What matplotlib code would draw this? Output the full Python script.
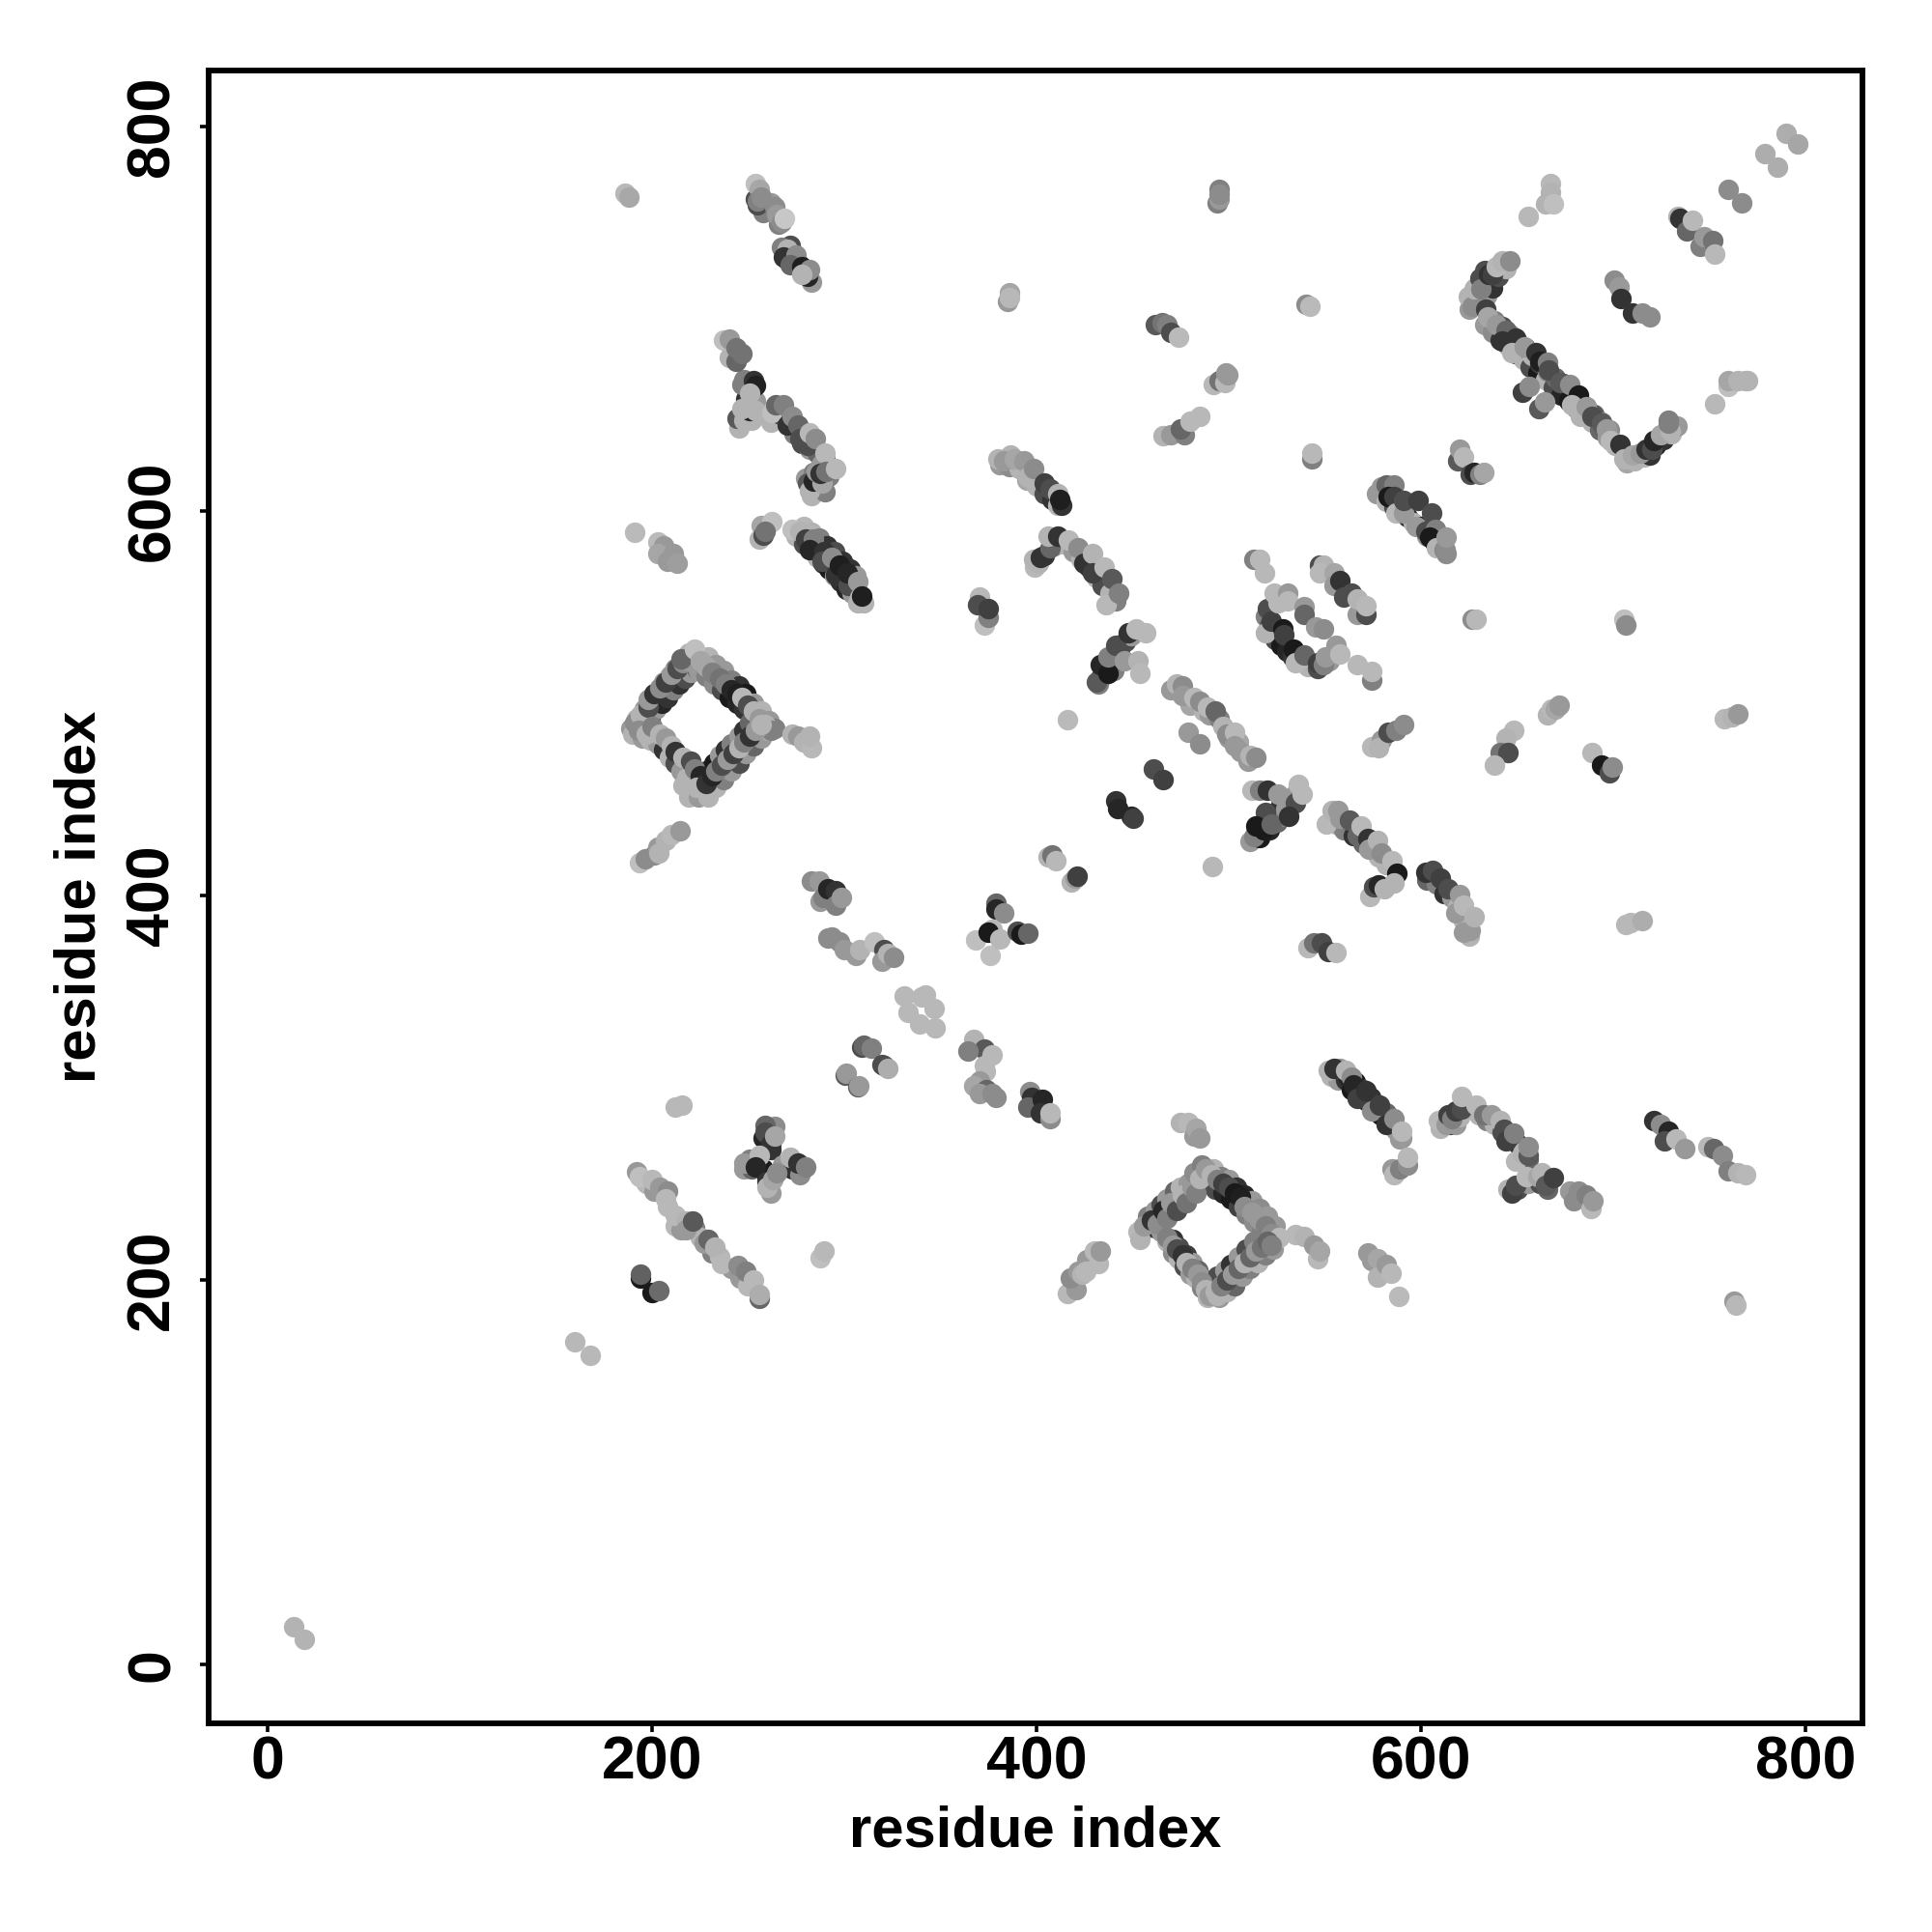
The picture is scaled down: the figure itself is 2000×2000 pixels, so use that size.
import matplotlib
matplotlib.use('Agg')
import matplotlib.pyplot as plt

plt.rcParams['font.family'] = ['Liberation Sans', 'DejaVu Sans']

ticks = [0, 200, 400, 600, 800]
axis_name = 'residue index'

# contacts lying along the edges of the strands, these end up underneath
e01_x = [275, 279, 283, 286, 289, 292, 295, 298, 301, 304, 307, 310, 279, 283, 287, 291, 295, 299, 303, 306]
e01_y = [587, 583, 580, 576, 573, 570, 566, 563, 559, 557, 552, 552, 592, 589, 586, 582, 579, 574, 570, 566]
e01_g = [.7, .3, .15, .7, .2, .1, .6, .2, .15, .6, .7, .7, .72, .7, .5, .2, .3, .2, .2, .6]
e02_x = [381, 386, 391, 395, 400, 404, 408, 411, 413]
e02_y = [624, 623, 622, 616, 613, 609, 606, 603, 603]
e02_g = [.6, .55, .7, .65, .7, .3, .2, .7, .2]
e03_x = [399, 401, 404, 409, 414, 419, 423, 427, 431, 434, 438, 441]
e03_y = [571, 573, 577, 582, 583, 579, 575, 571, 565, 561, 557, 553]
e03_g = [.72, .7, .2, .6, .7, .6, .7, .2, .7, .3, .7, .5]
e04_x = [633, 637, 641, 645, 649, 653, 657, 661, 665, 669, 673, 677, 681, 685, 689, 693, 697, 701]
e04_y = [697, 693, 689, 686, 682, 679, 675, 672, 668, 664, 660, 657, 653, 650, 646, 642, 638, 634]
e04_g = [.6, .55, .2, .7, .15, .7, .3, .1, .7, .3, .15, .1, .6, .3, .7, .4, .6, .7]
e05_x = [638, 642, 646, 650, 654, 658, 662, 666, 670, 674, 678, 682, 686, 690, 694, 698]
e05_y = [699, 696, 692, 688, 685, 681, 677, 673, 669, 666, 662, 658, 654, 650, 646, 642]
e05_g = [.5, .3, .6, .45, .2, .7, .25, .5, .4, .2, .1, .3, .5, .35, .5, .55]
e06_x = [707, 711, 716, 719, 722, 726, 730, 733]
e06_y = [625, 626, 628, 629, 634, 637, 640, 644]
e06_g = [.65, .7, .7, .2, .15, .2, .7, .6]
e07_x = [625, 628, 630, 633, 636, 639, 642, 628, 631, 634, 637, 640, 644]
e07_y = [705, 709, 713, 717, 719, 724, 727, 716, 712, 712, 716, 722, 726]
e07_g = [.6, .4, .7, .2, .3, .7, .6, .6, .3, .6, .2, .3, .7]
e08_x = [577, 582, 586, 589, 593, 596, 600, 603, 607, 610, 613]
e08_y = [609, 605, 602, 600, 597, 594, 592, 587, 584, 583, 578]
e08_g = [.6, .7, .3, .7, .2, .7, .1, .6, .1, .7, .55]
e09_x = [553, 557, 561, 564, 568, 572, 575, 579, 583, 587, 590, 558, 562, 566, 570, 574, 578, 582, 586]
e09_y = [306, 304, 304, 299, 296, 293, 289, 286, 282, 278, 274, 310, 306, 303, 299, 295, 291, 287, 282]
e09_g = [.7, .6, .2, .1, .2, .15, .3, .1, .4, .6, .6, .6, .15, .1, .25, .2, .3, .4, .5]
e10_x = [630, 634, 638, 642, 646, 650, 653, 656]
e10_y = [286, 283, 281, 277, 274, 271, 267, 263]
e10_g = [.7, .5, .7, .3, .6, .2, .7, .4]
e11_x = [519, 521, 524, 527, 530, 533, 537, 541, 546, 552]
e11_y = [545, 540, 533, 530, 527, 524, 522, 519, 518, 522]
e11_g = [.5, .3, .3, .1, .15, .2, .2, .7, .3, .6]
e12_x = [514, 517, 520, 524, 527, 531, 534, 511, 516, 521, 525, 529]
e12_y = [432, 437, 440, 443, 447, 450, 452, 428, 430, 434, 438, 441]
e12_g = [.3, .2, .5, .15, .2, .4, .6, .6, .1, .15, .4, .5]
e13_x = [433, 436, 439, 443, 446, 449, 432, 440]
e13_y = [513, 518, 523, 528, 532, 535, 510, 517]
e13_g = [.2, .1, .3, .2, .3, .6, .5, .5]
e14_x = [248, 252, 255, 258, 262, 264, 258, 260, 262, 268, 273, 277]
e14_y = [258, 258, 263, 258, 268, 280, 274, 254, 245, 260, 258, 255]
e14_g = [.6, .4, .2, .1, .2, .55, .15, .1, .6, .6, .2, .55]
e15_x = [254, 258, 262, 266, 270, 272, 276, 279, 283]
e15_y = [762, 755, 760, 749, 731, 738, 729, 726, 719]
e15_g = [.3, .5, .6, .5, .2, .3, .15, .1, .6]
e16_x = [262, 267, 271, 274, 278, 282, 286, 290, 288, 245, 249, 252, 248, 252]
e16_y = [646, 650, 645, 640, 635, 632, 630, 627, 624, 643, 658, 660, 668, 647]
e16_g = [.7, .3, .2, .5, .3, .6, .4, .5, .6, .7, .2, .3, .5, .7]
e17_x = [283, 286, 289, 292, 280, 284, 290]
e17_y = [608, 612, 617, 618, 617, 620, 610]
e17_g = [.7, .2, .3, .5, .6, .5, .5]
e18_x = [556, 560, 565, 570, 574, 578, 582]
e18_y = [437, 434, 431, 427, 424, 420, 416]
e18_g = [.7, .5, .2, .4, .6, .7, .7]
e19_x = [603, 608, 612, 616, 619, 622, 625]
e19_y = [408, 406, 401, 399, 394, 387, 379]
e19_g = [.4, .5, .2, .6, .7, .7, .7]
e20_x = [610, 612, 615, 618, 620, 650, 656, 662, 666]
e20_y = [279, 284, 281, 281, 285, 247, 250, 250, 247]
e20_g = [.7, .3, .2, .6, .7, .3, .6, .3, .4]
e21_x = [197, 201, 212, 215, 222, 225, 231, 235, 241, 246, 250]
e21_y = [250, 246, 228, 226, 227, 222, 214, 212, 206, 201, 197]
e21_g = [.72, .6, .72, .6, .5, .7, .5, .72, .6, .6, .72]
e22_x = [470, 477, 480, 487, 490, 495, 500, 505, 510]
e22_y = [507, 505, 499, 496, 494, 492, 482, 480, 470]
e22_g = [.6, .7, .65, .7, .6, .5, .6, .65, .6]
# left diamond edges
e23_x = [189, 192, 196, 199, 203, 206, 209, 212, 216, 219, 196, 199, 202, 205, 208, 211, 214, 217, 220, 223]
e23_y = [487, 492, 497, 502, 506, 511, 514, 518, 522, 526, 489, 492, 497, 500, 503, 507, 510, 513, 516, 518]
e23_g = [.6, .7, .6, .7, .55, .6, .7, .5, .6, .7, .35, .2, .6, .15, .2, .5, .2, .3, .6, .4]
e24_x = [229, 233, 237, 241, 245, 249, 253, 257, 261, 264, 224, 228, 232, 236, 240, 244, 248, 252, 255, 258]
e24_y = [524, 520, 517, 512, 509, 505, 500, 496, 491, 487, 517, 514, 510, 507, 503, 500, 497, 491, 488, 484]
e24_g = [.7, .6, .6, .5, .2, .1, .6, .7, .6, .5, .6, .5, .55, .3, .1, .15, .2, .3, .2, .6]
e25_x = [190, 195, 199, 203, 206, 209, 212, 215, 218, 216]
e25_y = [484, 482, 481, 479, 476, 472, 469, 465, 461, 457]
e25_g = [.7, .6, .7, .6, .2, .7, .3, .6, .7, .7]
e26_x = [233, 237, 241, 245, 249, 253, 257, 261, 225, 228, 232, 235, 238, 241, 245, 248, 251]
e26_y = [456, 460, 465, 469, 474, 478, 482, 486, 461, 465, 469, 473, 476, 479, 483, 486, 490]
e26_g = [.7, .5, .6, .3, .6, .4, .6, .7, .1, .2, .1, .6, .2, .5, .6, .2, .4]
# right diamond edges
e27_x = [456, 458, 462, 465, 468, 472, 475, 479, 483, 462, 465, 469, 472, 476, 480]
e27_y = [226, 233, 236, 239, 242, 246, 248, 250, 253, 227, 231, 235, 238, 242, 246]
e27_g = [.6, .5, .6, .3, .6, .4, .7, .6, .5, .2, .1, .2, .55, .15, .3]
e28_x = [465, 468, 471, 474, 477, 480, 483, 486, 489, 471, 474, 478, 481, 484, 488]
e28_y = [225, 220, 214, 211, 207, 203, 201, 196, 191, 221, 217, 213, 209, 205, 200]
e28_g = [.6, .7, .55, .7, .3, .6, .7, .5, .7, .2, .3, .25, .6, .4, .5]
e29_x = [492, 496, 500, 504, 508, 512, 516, 520, 524, 489, 493, 497, 501, 505, 509, 513, 517]
e29_y = [258, 254, 252, 248, 244, 241, 237, 233, 228, 250, 247, 245, 242, 238, 234, 230, 226]
e29_g = [.7, .5, .6, .2, .15, .6, .55, .6, .6, .6, .3, .15, .1, .25, .5, .55, .5]
e30_x = [495, 499, 503, 507, 511, 515, 519, 523, 491, 494, 498, 501, 505, 509, 513]
e30_y = [191, 194, 197, 202, 206, 209, 213, 216, 198, 202, 205, 208, 212, 216, 220]
e30_g = [.6, .7, .4, .6, .5, .7, .5, .6, .5, .3, .6, .2, .6, .3, .5]

# contact groups: residue x, residue y, grey level
c01_x = [13.4, 19]
c01_y = [19.6, 13.2]
c01_g = [.70, .70]
c02_x = [160, 168]
c02_y = [168, 161]
c02_g = [.72, .72]
c03_x = [186, 188]
c03_y = [765, 763]
c03_g = [.72, .66]
c04_x = [254, 256, 255, 255, 257, 264, 265, 267.5, 269]
c04_y = [770, 767, 759, 761, 763, 758, 754, 750, 752]
c04_g = [.75, .65, .3, .5, .55, .55, .6, .55, .78]
c05_x = [267.5, 270.6, 268.5, 274.8, 271.7, 277.9, 281, 282, 278]
c05_y = [737, 736, 732, 733, 728, 727, 722, 725.5, 723]
c05_g = [.5, .7, .2, .55, .4, .12, .15, .55, .7]
c06_x = [237, 240.4, 240.4, 243.5, 243.5, 246.7]
c06_y = [689, 689.5, 680, 678, 685, 682]
c06_g = [.75, .6, .7, .4, .45, .45]
c07_x = [244, 247.7, 246.7, 250.8, 253, 254, 254, 250.8, 246.7, 254]
c07_y = [648, 647, 665.5, 652, 667.6, 657, 665, 661.4, 653, 652]
c07_g = [.35, .7, .5, .15, .2, .6, .13, .7, .7, .7]
c08_x = [262.3, 264.4, 268.5, 270.6, 272.7, 275.8, 276.9, 281, 282, 285, 289.8]
c08_y = [651, 655, 655, 644.7, 649, 644.7, 637.4, 634.3, 640.5, 637.4, 630]
c08_g = [.75, .4, .5, .2, .55, .4, .3, .3, .72, .55, .72]
c09_x = [281, 282, 284, 288.3, 285.2, 287.3, 290.4, 295.6]
c09_y = [614.5, 610.3, 615.5, 614.5, 620.7, 619.7, 620.7, 621.8]
c09_g = [.35, .7, .15, .65, .6, .2, .45, .72]
c10_x = [191, 203, 206, 203, 211, 208, 213.3]
c10_y = [589, 584, 582, 578, 578, 574, 572.8]
c10_g = [.73, .73, .6, .65, .6, .6, .62]
c11_x = [257, 262.3, 256, 258, 259]
c11_y = [592.6, 594.3, 585.3, 587.4, 589.5]
c11_g = [.65, .75, .7, .3, .45]
c12_x = [272.7, 276.9, 280, 284, 282, 289.4, 288.3, 293.5, 295.6, 297.7, 301.9, 301.4, 307, 308, 309.2]
c12_y = [590.5, 589.5, 585.3, 585.3, 580, 579, 574, 575.9, 566.6, 571.8, 561.4, 567.6, 563.4, 555, 555.5]
c12_g = [.75, .7, .25, .5, .15, .2, .3, .55, .2, .12, .3, .15, .6, .7, .12]
# left diamond
c13_x = [191, 194, 198, 198, 201, 204, 207, 210, 213, 216, 219, 215, 222]
c13_y = [490, 494, 498, 502, 505, 508, 511, 515, 518, 521, 522, 523, 528]
c13_g = [.55, .7, .3, .6, .2, .55, .25, .6, .3, .55, .6, .4, .75]
c14_x = [225, 228, 231, 235, 238, 241, 244, 247, 250, 253, 256, 259, 262]
c14_y = [522, 519, 516, 513, 510, 507, 505, 503, 499, 496, 492, 489, 486]
c14_g = [.65, .65, .5, .45, .5, .15, .12, .72, .3, .7, .6, .7, .5]
c15_x = [193, 197, 200, 204, 207, 210, 212, 216, 220, 222, 225, 219, 224, 223, 229]
c15_y = [486, 484, 488, 484, 482, 478, 475, 472, 470, 466, 462, 451, 451, 456, 451]
c15_g = [.55, .7, .5, .7, .6, .7, .2, .7, .3, .5, .15, .7, .6, .7, .7]
c16_x = [228, 231, 233, 236, 239, 242, 245, 248, 251, 254, 257]
c16_y = [458, 462, 465, 468, 471, 474, 477, 480, 483, 486, 489]
c16_g = [.2, .15, .5, .3, .6, .25, .7, .5, .2, .6, .7]
c17_x = [272.7, 275.8, 279, 283, 282]
c17_y = [484, 483, 480, 477, 483]
c17_g = [.7, .6, .7, .72, .7]
c18_x = [386, 385, 386]
c18_y = [713.4, 709, 711]
c18_g = [.65, .6, .72]
c19_x = [462, 465.4, 468, 469.6, 473.7]
c19_y = [696.8, 697.8, 697, 692.6, 690.5]
c19_g = [.35, .45, .5, .3, .73]
c20_x = [466, 469.6, 476.9, 474.8, 480, 485]
c20_y = [639, 639.5, 639.5, 642.6, 646.8, 648.9]
c20_g = [.7, .6, .5, .4, .72, .72]
c21_x = [380, 386.2, 383, 388.3, 393.5, 395.6, 398.7, 404, 407, 411, 412.3]
c21_y = [627, 629, 626, 627, 626, 617.6, 621.8, 614.5, 611.4, 609, 606]
c21_g = [.7, .7, .6, .65, .6, .7, .55, .25, .3, .7, .12]
c22_x = [398.7, 402, 407, 406, 411, 416.4, 421.7, 424.7, 429, 429, 435, 439.3, 436.2, 442.5]
c22_y = [575, 576, 581, 587, 587, 585, 581, 573, 578, 567.6, 570.7, 564.5, 551, 557]
c22_g = [.7, .2, .4, .7, .2, .72, .55, .2, .7, .25, .72, .35, .72, .5]
c23_x = [372.7, 370.6, 374.8, 369.6, 374.8]
c23_y = [540.5, 555, 544.7, 551, 549]
c23_g = [.75, .72, .5, .3, .25]
c24_x = [431, 433, 437, 437, 441.4, 445.6, 447.7, 453, 454, 452, 457]
c24_y = [511, 520, 515.5, 524, 530, 522, 536.4, 522, 515.5, 538.4, 536.8]
c24_g = [.35, .15, .1, .5, .3, .6, .2, .7, .72, .72, .72]
c25_x = [416, 473, 476, 476, 482, 485, 489, 493, 497, 499, 503, 503, 506, 511, 514]
c25_y = [491.6, 510, 509, 504, 503, 501, 498, 496, 488, 484, 485, 478, 475, 473, 472]
c25_g = [.73, .7, .55, .6, .72, .55, .72, .4, .7, .55, .72, .6, .6, .7, .55]
c26_x = [479, 485, 461, 466, 441, 442, 449, 450]
c26_y = [485, 479, 466, 460, 449, 445, 441, 440]
c26_g = [.6, .55, .3, .25, .2, .15, .15, .25]
c27_x = [406, 408, 410, 418, 420, 421]
c27_y = [420, 421, 418, 407, 409, 410]
c27_g = [.7, .45, .72, .7, .6, .25]
c28_x = [379, 379, 383, 368.5, 376, 377, 375, 381, 390, 392, 395.6]
c28_y = [396, 393, 391, 376.7, 368.6, 382.6, 381, 377.4, 381.5, 380, 380.5]
c28_g = [.4, .15, .55, .75, .75, .72, .1, .72, .3, .1, .4]
c29_x = [283, 286.7, 287.3, 289, 291.5, 295.6, 295.6, 298.7]
c29_y = [407.6, 407.6, 397, 399, 403.4, 402.4, 395, 399.2]
c29_g = [.55, .6, .6, .5, .15, .2, .5, .6]
c30_x = [291.5, 293.5, 297.7, 300, 306, 308, 315.4, 320.6, 319.6, 322.7, 325.8]
c30_y = [378, 378.4, 376, 372, 369, 372, 376, 372, 366, 370, 367.6]
c30_g = [.55, .55, .55, .6, .6, .7, .75, .3, .6, .7, .55]
c31_x = [331, 340.4, 342, 346.7, 333, 339.4, 347.3]
c31_y = [347.8, 347.2, 348, 341, 339.4, 333, 331.3]
c31_g = [.72, .72, .72, .72, .72, .72, .72]
c32_x = [309, 310, 314, 319.5, 320.6, 322.7, 300.6, 300.8, 307, 307.5]
c32_y = [321, 322, 320.5, 312, 311.7, 310, 306.7, 307.6, 300.4, 301]
c32_g = [.3, .4, .5, .3, .3, .68, .35, .6, .35, .6]
c33_x = [367.5, 368.5, 372.7, 364.4, 376.8, 372.7, 373.6, 370.6, 367.5, 373.7, 370.6, 376.8, 379]
c33_y = [325, 322, 320, 319, 317, 311.7, 308.6, 303.4, 301, 299, 297, 297, 295]
c33_g = [.7, .7, .35, .5, .72, .72, .72, .6, .65, .4, .6, .55, .55]
c34_x = [396.6, 397.6, 395.6, 403, 402, 407, 407]
c34_y = [298, 295, 290, 294, 287, 284, 286.7]
c34_g = [.55, .2, .4, .15, .2, .55, .72]
c35_x = [193.5, 196.7, 200.8, 203, 203.6, 207, 210, 214.4]
c35_y = [417, 419, 421, 425.3, 422, 428.4, 431.5, 433.6]
c35_g = [.75, .55, .55, .6, .7, .7, .72, .6]
c36_x = [212.3, 215.4]
c36_y = [289.9, 291]
c36_g = [.72, .72]
c37_x = [259, 259, 262, 250.8, 248, 256, 254, 271.7, 276, 280, 260, 260, 263, 264.8, 263.7]
c37_y = [280.5, 277, 271, 262.8, 261, 265, 258.6, 263.8, 260.7, 259, 251, 248, 252, 256, 275]
c37_g = [.4, .3, .2, .5, .6, .72, .15, .7, .2, .5, .2, .7, .65, .55, .65]
c38_x = [192, 193.5, 200, 204, 208, 207, 208, 212, 217.5, 217.5, 221, 227, 229, 232.7, 236, 244.6, 248.8, 253, 256, 256]
c38_y = [256.5, 254, 252.4, 248, 246, 242, 238, 233.6, 230.5, 226.3, 230.5, 219, 221, 217, 208.6, 207.6, 204.5, 200, 190.5, 192.6]
c38_g = [.6, .75, .72, .6, .55, .72, .72, .72, .7, .6, .35, .6, .4, .7, .72, .55, .5, .72, .4, .68]
c39_x = [194, 194, 200, 203.3]
c39_y = [201, 203, 193.5, 194.5]
c39_g = [.1, .38, .1, .42]
c40_x = [287.3, 289.4]
c40_y = [211.8, 214.9]
c40_g = [.75, .72]
c41_x = [416, 420.6, 417.5, 421.6, 423.5, 426, 425.7, 430, 432, 433]
c41_y = [193, 195, 201, 204.5, 203, 210.7, 204.5, 215, 208.6, 215]
c41_g = [.72, .6, .55, .6, .7, .6, .72, .72, .72, .6]
# right diamond
c42_x = [453, 454, 456, 460, 463, 466, 468, 470, 473, 476, 478, 481, 483, 482, 486, 485]
c42_y = [225, 221, 228, 231, 229, 236, 232, 240, 236, 244, 240, 248, 245, 256, 260, 253]
c42_g = [.72, .7, .6, .2, .55, .15, .5, .6, .3, .7, .45, .6, .5, .55, .5, .7]
c43_x = [468, 471, 473, 476, 478, 481, 484, 486, 488, 490, 494]
c43_y = [222, 218, 216, 213, 209, 206, 203, 199, 195, 192, 192]
c43_g = [.5, .6, .3, .2, .7, .5, .6, .55, .7, .6, .7]
c44_x = [488, 491, 494, 497, 500, 503, 506, 508, 512, 516, 519, 522, 526]
c44_y = [258, 255, 252, 250, 248, 245, 243, 238, 235, 231, 228, 224, 222]
c44_g = [.6, .7, .5, .25, .3, .1, .12, .55, .6, .6, .5, .55, .72]
c45_x = [493, 496, 499, 502, 505, 508, 511, 514, 517, 520, 522]
c45_y = [194, 197, 200, 203, 206, 209, 212, 215, 217, 220, 218]
c45_g = [.7, .5, .3, .6, .4, .7, .4, .6, .45, .4, .5]
c46_x = [475, 479, 482, 483, 485]
c46_y = [282, 282, 275, 279, 274]
c46_g = [.7, .72, .6, .65, .6]
c47_x = [513, 512, 516, 520, 525.5, 519, 514, 518, 522, 529.6, 534.8, 536, 538, 531]
c47_y = [430.7, 454.6, 454.6, 454.6, 452.5, 443, 436, 434, 437, 445, 448.4, 457.8, 452.5, 441]
c47_g = [.5, .72, .5, .2, .6, .3, .1, .1, .4, .6, .3, .72, .72, .2]
c48_x = [550.9, 553.6, 556.7, 558, 563, 567, 569, 572.3, 573, 577.5, 579.6, 584.8, 587.3]
c48_y = [437, 444, 444, 440, 439, 431, 436, 429.6, 424, 428.6, 422.3, 418, 411.5]
c48_g = [.72, .7, .6, .6, .35, .4, .72, .2, .6, .7, .55, .72, .1]
c49_x = [573.4, 575.4, 578, 580.7, 585.9]
c49_y = [399.4, 404.6, 405.7, 403.6, 406.7]
c49_g = [.72, .3, .15, .7, .7]
c50_x = [602.5, 606, 609.8, 614, 620, 618, 622.3, 622.3, 625.4, 627.5]
c50_y = [412, 413, 408.8, 403.6, 400.5, 391, 395, 381, 381.7, 389]
c50_g = [.2, .3, .25, .3, .6, .6, .72, .6, .6, .7]
c51_x = [541, 544, 548, 551.5, 555.7]
c51_y = [373, 375.5, 375.5, 371, 370.3]
c51_g = [.72, .45, .3, .25, .72]
c52_x = [706.5, 708.8, 715]
c52_y = [385, 385.9, 387]
c52_g = [.72, .72, .68]
c53_x = [689, 694, 698, 699.4]
c53_y = [474.4, 468, 464, 467]
c53_g = [.72, .1, .3, .55]
c54_x = [648.3, 644, 641, 645, 638]
c54_y = [485.9, 481.7, 474.4, 474.4, 468]
c54_g = [.72, .7, .45, .3, .72]
c55_x = [666, 668, 670, 672]
c55_y = [494, 497, 497, 499]
c55_g = [.7, .72, .65, .6]
c56_x = [758, 762, 765]
c56_y = [492, 493, 494.5]
c56_g = [.72, .7, .6]
c57_x = [574.4, 579.6, 578, 582.7, 587, 591]
c57_y = [477.5, 480.7, 477, 484.8, 486, 489]
c57_g = [.72, .6, .7, .3, .5, .55]
c58_x = [540, 542]
c58_y = [707.3, 706.2]
c58_g = [.55, .73]
c59_x = [494, 495, 495, 495]
c59_y = [760, 762, 767, 764.6]
c59_g = [.5, .6, .5, .55]
c60_x = [492, 495, 498, 498.4, 499.4]
c60_y = [665.6, 667.7, 666.6, 672, 670.8]
c60_g = [.72, .45, .72, .6, .6]
c61_x = [543, 543]
c61_y = [627, 630]
c61_g = [.5, .72]
c62_x = [619, 620, 622.3, 625.4, 627.5, 630.6, 632.7]
c62_y = [626, 632.3, 628, 618.8, 619.8, 618.8, 620.2]
c62_g = [.35, .6, .72, .3, .15, .5, .65]
c63_x = [579.6, 581.7, 585.9, 582.7, 585.9, 587, 591, 591, 598.4, 605.6, 597.3, 602.5, 607.7, 604.6, 608, 612, 612.5, 613]
c63_y = [612.5, 613.5, 613.5, 607.3, 607.3, 599, 599, 605.2, 605.6, 599, 591.7, 589.6, 590.6, 586.5, 581, 580, 580, 586.5]
c63_g = [.6, .4, .5, .1, .25, .72, .6, .3, .25, .3, .6, .3, .5, .1, .7, .5, .55, .6]
# L shaped strand top right
c64_x = [624.4, 626.5, 627.5, 630.6, 631, 633, 633.8, 635, 637, 639, 642, 646.3]
c64_y = [711.4, 706.2, 715.6, 720.8, 715.6, 725, 705, 722.9, 722.9, 727, 730, 730]
c64_g = [.7, .55, .7, .3, .5, .3, .25, .2, .25, .72, .7, .55]
c65_x = [634.8, 639, 644, 642, 649.4, 647.3, 653.6, 659.8, 661.9, 666, 666.5, 672.3, 677.5, 681.7, 678.6, 682.7, 685.8, 689, 694, 696.3, 698.3, 703.5]
c65_y = [701, 696.9, 693.7, 688.5, 689.6, 682.3, 685.4, 682.3, 678, 677.1, 673.3, 666.7, 665.6, 660.4, 655.2, 649, 654.2, 649, 645.8, 642.7, 636.5, 634.4]
c65_g = [.65, .6, .4, .2, .2, .7, .6, .2, .12, .5, .3, .35, .55, .1, .7, .7, .6, .3, .35, .6, .72, .2]
c66_x = [705.6, 709.8, 714, 717, 720, 721.3, 724.4, 729.6, 728.6, 728.6]
c66_y = [627, 629, 630, 632.3, 632.3, 636.5, 639.6, 641.7, 645.8, 647]
c66_g = [.7, .65, .6, .2, .3, .15, .65, .7, .5, .5]
c67_x = [652.5, 656.3, 661.5, 664.4]
c67_y = [661.9, 664.6, 653, 656.7]
c67_g = [.25, .55, .35, .6]
c68_x = [700.4, 703, 704, 709.8, 715, 719]
c68_y = [719.8, 716.7, 710.4, 703, 703, 701]
c68_g = [.55, .6, .2, .2, .55, .55]
c69_x = [733.8, 734.8, 738, 741, 745, 747, 751.5, 752.5]
c69_y = [753, 752, 745.8, 751, 737.5, 742.7, 740.6, 733.7]
c69_g = [.7, .2, .4, .72, .5, .6, .45, .72]
c70_x = [759.8, 766.7]
c70_y = [767, 760]
c70_g = [.55, .55]
c71_x = [779, 785.4, 790, 796]
c71_y = [785.8, 779, 796.4, 790.6]
c71_g = [.68, .68, .68, .65]
c72_x = [655.6, 667.5, 667.5, 665, 668.6]
c72_y = [753, 770.4, 765.6, 759.8, 759.8]
c72_g = [.72, .72, .7, .7, .75]
c73_x = [752.7, 760, 760, 765, 769, 770]
c73_y = [655.8, 664.6, 667.7, 667.7, 667.7, 667.7]
c73_g = [.72, .75, .65, .7, .7, .7]
c74_x = [705.6, 706.7, 626.5, 628.6]
c74_y = [543.8, 540.6, 543.4, 543.4]
c74_g = [.75, .55, .55, .72]
c75_x = [513, 516, 518.8, 567, 574.4, 574.4]
c75_y = [575, 575, 568, 519.8, 512, 516.7]
c75_g = [.5, .72, .72, .72, .5, .72]
c76_x = [547.3, 549.4, 547.3, 554.6, 554.6, 557.7, 559.8, 564, 567, 567, 571.3, 571.3]
c76_y = [571.9, 571.9, 567.7, 567.7, 561.4, 563.6, 555.2, 557.3, 545.9, 554.2, 545.9, 550.6]
c76_g = [.3, .7, .72, .65, .6, .2, .3, .3, .6, .7, .3, .72]
c77_x = [519, 520, 522.3, 523.4, 525.5, 528, 528.6, 530.7, 530.7, 533.8, 534.8, 539, 539, 539, 545.2, 546.3, 549.4, 549.4, 550.4, 555.7, 557.7]
c77_y = [536.5, 549, 542.7, 557.3, 552, 538.6, 535.4, 557.3, 553, 528, 521, 550, 546, 525, 539.6, 521, 538.6, 520, 524, 530.2, 525.6]
c77_g = [.7, .3, .25, .72, .72, .1, .25, .6, .72, .1, .72, .6, .4, .4, .6, .25, .55, .5, .6, .6, .72]
c78_x = [491.4, 551.5, 554.6, 560.9, 564, 565, 567, 571.3, 574.4, 578.6, 581.7, 585.9, 589, 590]
c78_y = [415, 308.8, 309.9, 308.8, 305.7, 301.5, 294.2, 298.4, 288, 291, 280.7, 283.8, 273.4, 277.6]
c78_g = [.72, .7, .2, .7, .55, .15, .25, .2, .55, .25, .2, .55, .6, .72]
c79_x = [584.8, 585.9, 589, 593, 593]
c79_y = [257.8, 254.7, 257.8, 259.9, 264]
c79_g = [.6, .72, .5, .55, .72]
c80_x = [572.3, 574.4, 577.5, 577.5, 581.7, 584.4, 588.6]
c80_y = [214, 209.8, 210.9, 201.5, 207.8, 203.6, 191.5]
c80_g = [.6, .6, .65, .7, .6, .72, .73]
c81_x = [534.8, 539, 544.2, 546.3, 547.3]
c81_y = [223.4, 222.4, 218.2, 210.9, 215]
c81_g = [.72, .7, .6, .72, .65]
c82_x = [608.8, 613, 614, 616, 618, 621.3, 621.3]
c82_y = [282.8, 280.7, 285.9, 283.8, 288, 289, 295.3]
c82_g = [.72, .6, .25, .5, .25, .3, .72]
c83_x = [628.6, 632.7, 636.9, 641, 643, 644, 648.4, 649.4, 652.5, 655.6, 655.6]
c83_y = [291, 285.9, 285.9, 282.8, 278.6, 272.4, 276.5, 262, 266, 265, 269.2]
c83_g = [.72, .45, .6, .7, .3, .25, .5, .72, .7, .35, .55]
c84_x = [645.2, 647.3, 649.4, 654.6, 661, 663, 665, 668.6]
c84_y = [247.4, 245.3, 249.4, 253.6, 253.6, 255.7, 249.4, 253.2]
c84_g = [.7, .25, .3, .72, .65, .7, .35, .25]
c85_x = [677.5, 681.7, 679.6, 685.8, 688.5, 689.4]
c85_y = [246.3, 246.3, 241, 244.2, 237, 241]
c85_g = [.6, .55, .55, .5, .72, .6]
c86_x = [721.3, 724.4, 728.6, 726.5, 732.7, 737]
c86_y = [282.8, 280.7, 277.6, 272.4, 273.4, 268.2]
c86_g = [.2, .55, .15, .3, .72, .6]
c87_x = [749.4, 752, 756.7, 759.8, 765, 769]
c87_y = [269.2, 268.2, 265, 256.7, 255.7, 254.7]
c87_g = [.72, .4, .55, .5, .7, .72]
c88_x = [763, 764]
c88_y = [189, 187]
c88_g = [.6, .72]

groups = [
    (e01_x, e01_y, e01_g), (e02_x, e02_y, e02_g), (e03_x, e03_y, e03_g), (e04_x, e04_y, e04_g),
    (e05_x, e05_y, e05_g), (e06_x, e06_y, e06_g), (e07_x, e07_y, e07_g), (e08_x, e08_y, e08_g),
    (e09_x, e09_y, e09_g), (e10_x, e10_y, e10_g), (e11_x, e11_y, e11_g), (e12_x, e12_y, e12_g),
    (e13_x, e13_y, e13_g), (e14_x, e14_y, e14_g), (e15_x, e15_y, e15_g), (e16_x, e16_y, e16_g),
    (e17_x, e17_y, e17_g), (e18_x, e18_y, e18_g), (e19_x, e19_y, e19_g), (e20_x, e20_y, e20_g),
    (e21_x, e21_y, e21_g), (e22_x, e22_y, e22_g), (e23_x, e23_y, e23_g), (e24_x, e24_y, e24_g),
    (e25_x, e25_y, e25_g), (e26_x, e26_y, e26_g), (e27_x, e27_y, e27_g), (e28_x, e28_y, e28_g),
    (e29_x, e29_y, e29_g), (e30_x, e30_y, e30_g),
    (c01_x, c01_y, c01_g), (c02_x, c02_y, c02_g), (c03_x, c03_y, c03_g), (c04_x, c04_y, c04_g),
    (c05_x, c05_y, c05_g), (c06_x, c06_y, c06_g), (c07_x, c07_y, c07_g), (c08_x, c08_y, c08_g),
    (c09_x, c09_y, c09_g), (c10_x, c10_y, c10_g), (c11_x, c11_y, c11_g), (c12_x, c12_y, c12_g),
    (c13_x, c13_y, c13_g), (c14_x, c14_y, c14_g), (c15_x, c15_y, c15_g), (c16_x, c16_y, c16_g),
    (c17_x, c17_y, c17_g), (c18_x, c18_y, c18_g), (c19_x, c19_y, c19_g), (c20_x, c20_y, c20_g),
    (c21_x, c21_y, c21_g), (c22_x, c22_y, c22_g), (c23_x, c23_y, c23_g), (c24_x, c24_y, c24_g),
    (c25_x, c25_y, c25_g), (c26_x, c26_y, c26_g), (c27_x, c27_y, c27_g), (c28_x, c28_y, c28_g),
    (c29_x, c29_y, c29_g), (c30_x, c30_y, c30_g), (c31_x, c31_y, c31_g), (c32_x, c32_y, c32_g),
    (c33_x, c33_y, c33_g), (c34_x, c34_y, c34_g), (c35_x, c35_y, c35_g), (c36_x, c36_y, c36_g),
    (c37_x, c37_y, c37_g), (c38_x, c38_y, c38_g), (c39_x, c39_y, c39_g), (c40_x, c40_y, c40_g),
    (c41_x, c41_y, c41_g), (c42_x, c42_y, c42_g), (c43_x, c43_y, c43_g), (c44_x, c44_y, c44_g),
    (c45_x, c45_y, c45_g), (c46_x, c46_y, c46_g), (c47_x, c47_y, c47_g), (c48_x, c48_y, c48_g),
    (c49_x, c49_y, c49_g), (c50_x, c50_y, c50_g), (c51_x, c51_y, c51_g), (c52_x, c52_y, c52_g),
    (c53_x, c53_y, c53_g), (c54_x, c54_y, c54_g), (c55_x, c55_y, c55_g), (c56_x, c56_y, c56_g),
    (c57_x, c57_y, c57_g), (c58_x, c58_y, c58_g), (c59_x, c59_y, c59_g), (c60_x, c60_y, c60_g),
    (c61_x, c61_y, c61_g), (c62_x, c62_y, c62_g), (c63_x, c63_y, c63_g), (c64_x, c64_y, c64_g),
    (c65_x, c65_y, c65_g), (c66_x, c66_y, c66_g), (c67_x, c67_y, c67_g), (c68_x, c68_y, c68_g),
    (c69_x, c69_y, c69_g), (c70_x, c70_y, c70_g), (c71_x, c71_y, c71_g), (c72_x, c72_y, c72_g),
    (c73_x, c73_y, c73_g), (c74_x, c74_y, c74_g), (c75_x, c75_y, c75_g), (c76_x, c76_y, c76_g),
    (c77_x, c77_y, c77_g), (c78_x, c78_y, c78_g), (c79_x, c79_y, c79_g), (c80_x, c80_y, c80_g),
    (c81_x, c81_y, c81_g), (c82_x, c82_y, c82_g), (c83_x, c83_y, c83_g), (c84_x, c84_y, c84_g),
    (c85_x, c85_y, c85_g), (c86_x, c86_y, c86_g), (c87_x, c87_y, c87_g), (c88_x, c88_y, c88_g),
]

fig = plt.figure(figsize=(20, 20), dpi=100)
ax = fig.add_axes([0.108, 0.108, 0.856, 0.8555])

for xs, ys, gs in groups:
    for x, y, g in zip(xs, ys, gs, strict=True):
        ax.scatter(x, y, s=235, color=str(g), linewidths=0, zorder=3)

ax.set_xlim(-30.6, 829.6)
ax.set_ylim(-30.6, 829)
ax.set_xticks(ticks)
ax.set_yticks(ticks)
ax.set_xticklabels(ticks, fontsize=45, fontweight='bold')
ax.set_yticklabels(ticks, fontsize=45, fontweight='bold', rotation=90, va='center')
ax.tick_params(length=6.3, width=2.6)
ax.tick_params(axis='x', pad=2)
ax.tick_params(axis='y', pad=14)
ax.set_xlabel(axis_name, fontsize=43, fontweight='bold', labelpad=10)
ax.set_ylabel(axis_name, fontsize=43, fontweight='bold', labelpad=13)
for spine in ax.spines.values():
    spine.set_linewidth(4.2)

fig.savefig('out.png', dpi=100)
